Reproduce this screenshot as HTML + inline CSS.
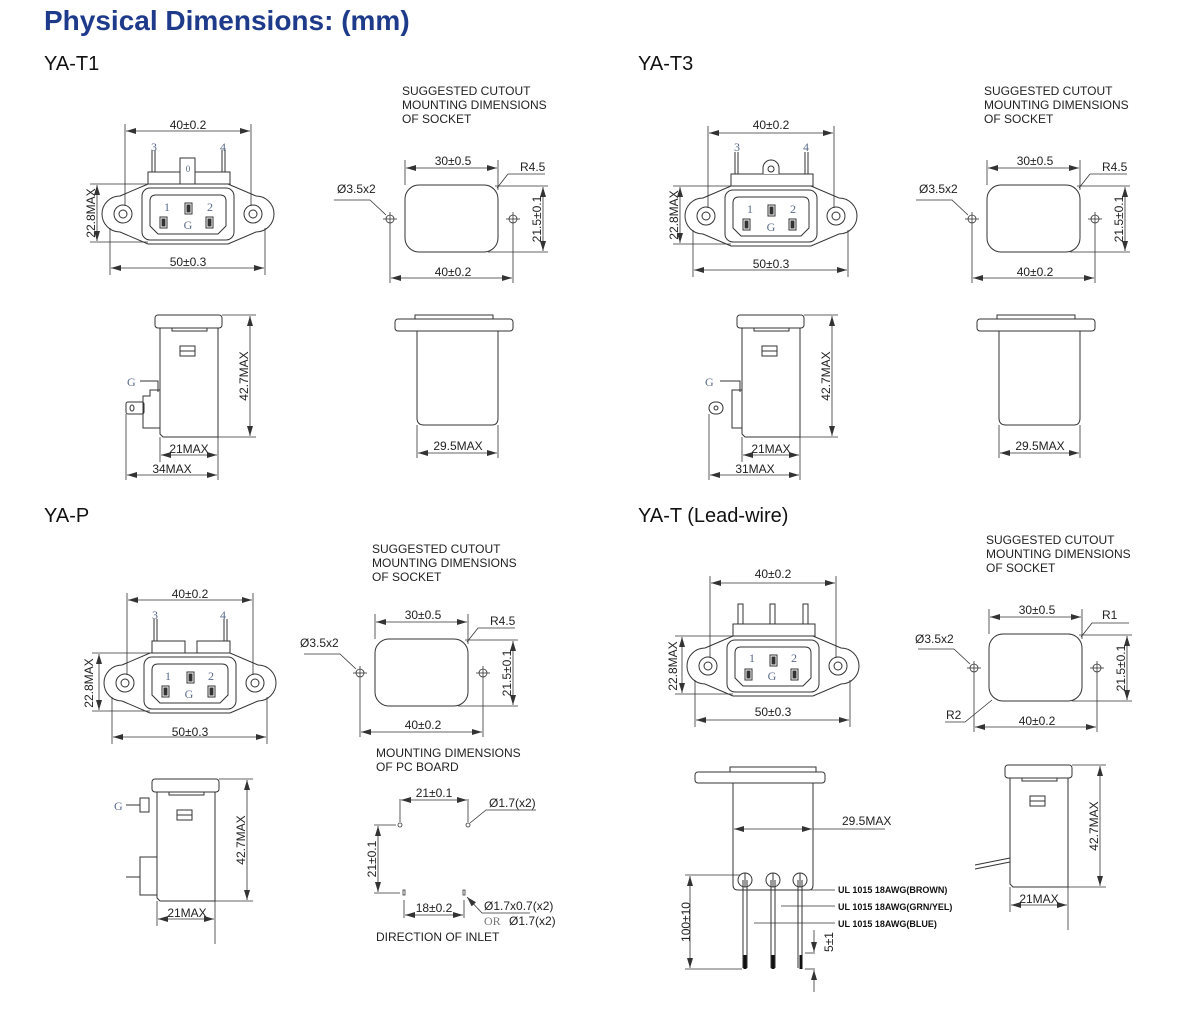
<!DOCTYPE html>
<html><head><meta charset="utf-8"><style>
html,body{margin:0;padding:0;background:#fff;}
svg{display:block}
text{font-family:"Liberation Sans",sans-serif;}
.t{font-size:12px;fill:#222}
.s{font-size:12px;fill:#222}
.h{font-size:20px;fill:#111}
.n{font-family:"Liberation Serif",serif;font-size:12px;fill:#5a6a8a}
.w{font-size:9px;font-weight:bold;fill:#111}
</style></head><body>
<svg width="1200" height="1019" viewBox="0 0 1200 1019" xmlns="http://www.w3.org/2000/svg">
<defs>
<marker id="a" markerWidth="10" markerHeight="6" refX="10" refY="3" orient="auto-start-reverse" markerUnits="userSpaceOnUse"><path d="M0,0 L10,3 L0,6 Z" fill="#333"/></marker>
<g id="face" fill="none" stroke="#333" stroke-width="1">
 <path d="M120,196 L148,184 L228,184 L256,196 A18,18 0 0 1 256,232 L228,244 L148,244 L120,232 A18,18 0 0 1 120,196 Z" fill="#fff"/>
 <rect x="142" y="188" width="92" height="52" rx="8"/>
 <path d="M156,195 L220,195 Q226,195 226,201 L226,226 L218,234 L158,234 L150,226 L150,201 Q150,195 156,195 Z"/>
 <circle cx="123" cy="214" r="9"/><circle cx="123" cy="214" r="4"/>
 <circle cx="253" cy="214" r="9"/><circle cx="253" cy="214" r="4"/>
 <rect x="160" y="217" width="7" height="11"/><rect x="162" y="219" width="3" height="7" fill="#333"/>
 <rect x="185" y="203" width="7" height="11"/><rect x="187" y="205" width="3" height="7" fill="#333"/>
 <rect x="206" y="217" width="7" height="11"/><rect x="208" y="219" width="3" height="7" fill="#333"/>
</g>
<g id="dimf" fill="none" stroke="#333" stroke-width="0.8">
 <line x1="125" y1="124" x2="125" y2="206"/><line x1="251" y1="124" x2="251" y2="206"/>
 <line x1="126" y1="131" x2="250" y2="131" marker-start="url(#a)" marker-end="url(#a)"/>
 <line x1="110" y1="228" x2="110" y2="275"/><line x1="265" y1="228" x2="265" y2="275"/>
 <line x1="111" y1="268" x2="264" y2="268" marker-start="url(#a)" marker-end="url(#a)"/>
 <line x1="90" y1="184" x2="148" y2="184"/><line x1="90" y1="242" x2="148" y2="242"/>
 <line x1="97" y1="185" x2="97" y2="241" marker-start="url(#a)" marker-end="url(#a)"/>
</g>
<g id="cut" fill="none" stroke="#333" stroke-width="0.8">
 <rect x="405" y="185" width="93" height="67" rx="14" stroke-width="1"/>
 <circle cx="390" cy="219" r="4"/><line x1="383" y1="219" x2="397" y2="219"/><line x1="390" y1="212" x2="390" y2="283"/>
 <circle cx="513" cy="219" r="4"/><line x1="506" y1="219" x2="520" y2="219"/><line x1="513" y1="212" x2="513" y2="283"/>
 <line x1="405" y1="160" x2="405" y2="185"/><line x1="498" y1="160" x2="498" y2="190"/>
 <line x1="406" y1="168" x2="497" y2="168" marker-start="url(#a)" marker-end="url(#a)"/>
 <line x1="391" y1="278" x2="512" y2="278" marker-start="url(#a)" marker-end="url(#a)"/>
 <line x1="495" y1="186" x2="548" y2="186"/><line x1="488" y1="252" x2="548" y2="252"/>
 <line x1="543" y1="187" x2="543" y2="251" marker-start="url(#a)" marker-end="url(#a)"/>
 <path d="M334,200 L370,200 L386,215"/>
 <path d="M545,174 L508,174 L497,188"/>
</g>
<g id="side" fill="none" stroke="#333" stroke-width="1">
 <rect x="155" y="315" width="67" height="13" rx="3" fill="#fff"/>
 <rect x="172" y="328" width="35" height="3"/>
 <path d="M160,328 L160,434 L163,437 L218,437 L218,328"/>
 <rect x="180" y="346" width="15" height="10"/><line x1="180" y1="351" x2="195" y2="351"/>
 <line x1="222" y1="315" x2="256" y2="315" stroke-width="0.8"/><line x1="218" y1="437" x2="256" y2="437" stroke-width="0.8"/>
 <line x1="250" y1="316" x2="250" y2="436" stroke-width="0.8" marker-start="url(#a)" marker-end="url(#a)"/>
 <line x1="160" y1="437" x2="160" y2="462" stroke-width="0.8"/><line x1="218" y1="437" x2="218" y2="480" stroke-width="0.8"/>
 <line x1="161" y1="455" x2="217" y2="455" stroke-width="0.8" marker-start="url(#a)" marker-end="url(#a)"/>
</g>
<g id="bot" fill="none" stroke="#333" stroke-width="1">
 <rect x="395" y="319" width="118" height="12" rx="3"/>
 <rect x="415" y="315" width="78" height="4"/>
 <path d="M417,331 L417,418 Q417,425 424,425 L492,425 Q498,425 498,418 L498,331"/>
 <line x1="417" y1="425" x2="417" y2="458" stroke-width="0.8"/><line x1="498" y1="425" x2="498" y2="458" stroke-width="0.8"/>
 <line x1="418" y1="453" x2="497" y2="453" stroke-width="0.8" marker-start="url(#a)" marker-end="url(#a)"/>
</g>
</defs>

<text x="44" y="30" style="font-size:28px;font-weight:bold;fill:#1e3a8a">Physical Dimensions: (mm)</text>

<text x="44" y="70" class="h">YA-T1</text>
<g fill="none" stroke="#333" stroke-width="1">
 <line x1="152" y1="150" x2="152" y2="172"/><line x1="155" y1="150" x2="155" y2="172"/>
 <line x1="222" y1="150" x2="222" y2="172"/><line x1="225" y1="150" x2="225" y2="172"/>
 <rect x="148" y="172" width="82" height="12" fill="#fff"/>
 <rect x="180" y="158" width="15" height="26" fill="#fff"/>
</g>
<use href="#face"/><use href="#dimf"/>
<text x="188" y="172" class="n" style="font-size:9px" text-anchor="middle">0</text>
<text x="188" y="129" class="t" text-anchor="middle">40±0.2</text>
<text x="188" y="266" class="t" text-anchor="middle">50±0.3</text>
<text x="95" y="213" class="t" text-anchor="middle" transform="rotate(-90 95 213)">22.8MAX</text>
<text x="154" y="151" class="n" text-anchor="middle">3</text><text x="223" y="151" class="n" text-anchor="middle">4</text>
<text x="167" y="211" class="n" text-anchor="middle">1</text><text x="188" y="229" class="n" text-anchor="middle">G</text><text x="210" y="211" class="n" text-anchor="middle">2</text>

<use href="#cut"/>
<text x="402" y="95" class="s">SUGGESTED CUTOUT</text><text x="402" y="109" class="s">MOUNTING DIMENSIONS</text><text x="402" y="123" class="s">OF SOCKET</text>
<text x="453" y="165" class="t" text-anchor="middle">30±0.5</text>
<text x="520" y="171" class="t">R4.5</text>
<text x="337" y="193" class="t">Ø3.5x2</text>
<text x="453" y="276" class="t" text-anchor="middle">40±0.2</text>
<text x="541" y="219" class="t" text-anchor="middle" transform="rotate(-90 541 219)">21.5±0.1</text>

<use href="#side"/>
<g fill="none" stroke="#333" stroke-width="1">
 <path d="M140,381 L158,381 L158,392"/><path d="M160,390 L150,390 L150,396 L143,396 L143,428 L160,428"/>
 <rect x="126" y="402" width="18" height="12" rx="2"/><ellipse cx="132" cy="408" rx="2" ry="3"/>
 <line x1="126" y1="414" x2="126" y2="480" stroke-width="0.8"/>
 <line x1="127" y1="475" x2="217" y2="475" stroke-width="0.8" marker-start="url(#a)" marker-end="url(#a)"/>
</g>
<text x="127" y="386" class="n">G</text>
<text x="189" y="453" class="t" text-anchor="middle">21MAX</text>
<text x="172" y="473" class="t" text-anchor="middle">34MAX</text>
<text x="248" y="376" class="t" text-anchor="middle" transform="rotate(-90 248 376)">42.7MAX</text>
<use href="#bot"/>
<text x="458" y="450" class="t" text-anchor="middle">29.5MAX</text>

<text x="638" y="70" class="h">YA-T3</text>
<g transform="translate(583,2)">
 <g fill="none" stroke="#333" stroke-width="1">
  <line x1="152" y1="150" x2="152" y2="172"/><line x1="155" y1="150" x2="155" y2="172"/>
  <line x1="222" y1="150" x2="222" y2="172"/><line x1="225" y1="150" x2="225" y2="172"/>
  <rect x="148" y="172" width="82" height="12" fill="#fff"/>
  <path d="M180,172 L180,166 A8,8 0 0 1 196,166 L196,172" fill="#fff"/><circle cx="188" cy="167" r="3"/>
 </g>
 <use href="#face"/><use href="#dimf"/>
</g>
<text x="771" y="129" class="t" text-anchor="middle">40±0.2</text>
<text x="771" y="268" class="t" text-anchor="middle">50±0.3</text>
<text x="678" y="215" class="t" text-anchor="middle" transform="rotate(-90 678 215)">22.8MAX</text>
<text x="737" y="151" class="n" text-anchor="middle">3</text><text x="806" y="151" class="n" text-anchor="middle">4</text>
<text x="750" y="213" class="n" text-anchor="middle">1</text><text x="771" y="231" class="n" text-anchor="middle">G</text><text x="793" y="213" class="n" text-anchor="middle">2</text>
<use href="#cut" transform="translate(582,0)"/>
<text x="984" y="95" class="s">SUGGESTED CUTOUT</text><text x="984" y="109" class="s">MOUNTING DIMENSIONS</text><text x="984" y="123" class="s">OF SOCKET</text>
<text x="1035" y="165" class="t" text-anchor="middle">30±0.5</text>
<text x="1102" y="171" class="t">R4.5</text>
<text x="919" y="193" class="t">Ø3.5x2</text>
<text x="1035" y="276" class="t" text-anchor="middle">40±0.2</text>
<text x="1123" y="219" class="t" text-anchor="middle" transform="rotate(-90 1123 219)">21.5±0.1</text>
<use href="#side" transform="translate(582,0)"/>
<g fill="none" stroke="#333" stroke-width="1">
 <path d="M720,381 L740,381 L740,392"/><path d="M742,390 L732,390 L732,428 L742,428"/>
 <rect x="709" y="402" width="14" height="12" rx="6"/><circle cx="716" cy="408" r="2"/>
 <line x1="709" y1="414" x2="709" y2="480" stroke-width="0.8"/>
 <line x1="710" y1="475" x2="799" y2="475" stroke-width="0.8" marker-start="url(#a)" marker-end="url(#a)"/>
</g>
<text x="705" y="386" class="n">G</text>
<text x="771" y="453" class="t" text-anchor="middle">21MAX</text>
<text x="755" y="473" class="t" text-anchor="middle">31MAX</text>
<text x="830" y="376" class="t" text-anchor="middle" transform="rotate(-90 830 376)">42.7MAX</text>
<use href="#bot" transform="translate(582,0)"/>
<text x="1040" y="450" class="t" text-anchor="middle">29.5MAX</text>

<text x="44" y="522" class="h">YA-P</text>
<g transform="translate(2,469)">
 <g fill="none" stroke="#333" stroke-width="1">
  <rect x="150" y="172" width="33" height="12" fill="#fff"/><rect x="195" y="172" width="33" height="12" fill="#fff"/>
  <line x1="152" y1="150" x2="152" y2="172"/><line x1="155" y1="150" x2="155" y2="172"/>
  <line x1="222" y1="150" x2="222" y2="172"/><line x1="225" y1="150" x2="225" y2="172"/>
 </g>
 <use href="#face"/><use href="#dimf"/>
</g>
<text x="190" y="598" class="t" text-anchor="middle">40±0.2</text>
<text x="190" y="736" class="t" text-anchor="middle">50±0.3</text>
<text x="93" y="683" class="t" text-anchor="middle" transform="rotate(-90 93 683)">22.8MAX</text>
<text x="155" y="619" class="n" text-anchor="middle">3</text><text x="223" y="619" class="n" text-anchor="middle">4</text>
<text x="168" y="680" class="n" text-anchor="middle">1</text><text x="189" y="698" class="n" text-anchor="middle">G</text><text x="211" y="680" class="n" text-anchor="middle">2</text>
<use href="#cut" transform="translate(-30,454)"/>
<text x="372" y="553" class="s">SUGGESTED CUTOUT</text><text x="372" y="567" class="s">MOUNTING DIMENSIONS</text><text x="372" y="581" class="s">OF SOCKET</text>
<text x="423" y="619" class="t" text-anchor="middle">30±0.5</text>
<text x="490" y="625" class="t">R4.5</text>
<text x="300" y="647" class="t">Ø3.5x2</text>
<text x="423" y="729" class="t" text-anchor="middle">40±0.2</text>
<text x="511" y="673" class="t" text-anchor="middle" transform="rotate(-90 511 673)">21.5±0.1</text>
<use href="#side" transform="translate(-3,464)"/>
<g fill="none" stroke="#333" stroke-width="1">
 <path d="M126,805 L140,805"/><rect x="140" y="798" width="9" height="14"/>
 <rect x="140" y="857" width="17" height="38"/><line x1="126" y1="877" x2="140" y2="877"/>
</g>
<text x="114" y="810" class="n">G</text>
<text x="187" y="917" class="t" text-anchor="middle">21MAX</text>
<text x="245" y="840" class="t" text-anchor="middle" transform="rotate(-90 245 840)">42.7MAX</text>
<text x="376" y="757" class="s">MOUNTING  DIMENSIONS</text><text x="376" y="771" class="s">OF  PC  BOARD</text>
<g fill="none" stroke="#333" stroke-width="0.8">
 <line x1="400" y1="799" x2="400" y2="822"/><line x1="468" y1="799" x2="468" y2="822"/>
 <line x1="401" y1="800" x2="467" y2="800" marker-start="url(#a)" marker-end="url(#a)"/>
 <circle cx="400" cy="825" r="2"/><circle cx="468" cy="825" r="2"/>
 <path d="M470,823 L486,810 L536,810"/>
 <line x1="374" y1="825" x2="396" y2="825"/><line x1="374" y1="893" x2="400" y2="893"/>
 <line x1="378" y1="826" x2="378" y2="892" marker-start="url(#a)" marker-end="url(#a)"/>
 <rect x="403" y="890" width="2" height="5"/><rect x="463" y="890" width="2" height="5"/>
 <line x1="404" y1="900" x2="404" y2="918"/><line x1="464" y1="900" x2="464" y2="918"/>
 <line x1="405" y1="915" x2="463" y2="915" marker-start="url(#a)" marker-end="url(#a)"/>
 <path d="M467,897 L482,913 L530,913" marker-start="url(#a)"/>
</g>
<text x="434" y="797" class="t" text-anchor="middle">21±0.1</text>
<text x="489" y="807" class="t">Ø1.7(x2)</text>
<text x="376" y="859" class="t" text-anchor="middle" transform="rotate(-90 376 859)">21±0.1</text>
<text x="434" y="912" class="t" text-anchor="middle">18±0.2</text>
<text x="484" y="910" class="t">Ø1.7x0.7(x2)</text>
<text x="484" y="925" class="n" style="font-size:12px;fill:#777">OR</text><text x="509" y="925" class="t">Ø1.7(x2)</text>
<text x="376" y="941" class="s">DIRECTION  OF  INLET</text>

<text x="638" y="522" class="h">YA-T (Lead-wire)</text>
<g transform="translate(585,452)">
 <g fill="none" stroke="#333" stroke-width="1">
  <rect x="153" y="152" width="5" height="32" fill="#fff"/><rect x="185" y="152" width="5" height="32" fill="#fff"/><rect x="218" y="152" width="5" height="32" fill="#fff"/>
  <rect x="148" y="172" width="82" height="12" fill="#fff"/>
 </g>
 <use href="#face"/><use href="#dimf"/>
</g>
<text x="773" y="578" class="t" text-anchor="middle">40±0.2</text>
<text x="773" y="716" class="t" text-anchor="middle">50±0.3</text>
<text x="677" y="666" class="t" text-anchor="middle" transform="rotate(-90 677 666)">22.8MAX</text>
<text x="752" y="662" class="n" text-anchor="middle">1</text><text x="772" y="680" class="n" text-anchor="middle">G</text><text x="794" y="662" class="n" text-anchor="middle">2</text>
<use href="#cut" transform="translate(584,449)"/>
<text x="986" y="544" class="s">SUGGESTED CUTOUT</text><text x="986" y="558" class="s">MOUNTING DIMENSIONS</text><text x="986" y="572" class="s">OF SOCKET</text>
<text x="1037" y="614" class="t" text-anchor="middle">30±0.5</text>
<text x="1102" y="619" class="t">R1</text>
<text x="915" y="643" class="t">Ø3.5x2</text>
<text x="946" y="719" class="t">R2</text>
<path d="M945,722 L965,722 L992,700" fill="none" stroke="#333" stroke-width="0.8"/>
<text x="1037" y="725" class="t" text-anchor="middle">40±0.2</text>
<text x="1125" y="668" class="t" text-anchor="middle" transform="rotate(-90 1125 668)">21.5±0.1</text>
<g fill="none" stroke="#333" stroke-width="1">
 <rect x="695" y="772" width="130" height="11" rx="3"/>
 <rect x="730" y="767" width="86" height="5"/>
 <path d="M733,783 L733,885 Q733,890 738,890 L809,890 Q813,890 813,885 L813,783"/>
 <line x1="734" y1="829" x2="812" y2="829" stroke-width="0.8" marker-start="url(#a)" marker-end="url(#a)"/>
 <line x1="813" y1="829" x2="885" y2="829" stroke-width="0.8"/>
 <circle cx="745" cy="880" r="7"/><circle cx="773" cy="880" r="7"/><circle cx="800" cy="880" r="7"/>
 <path d="M743,880 L743,968 M747,880 L747,968 M771,880 L771,968 M775,880 L775,968 M798,880 L798,968 M802,880 L802,968"/>
 <path d="M745,873 L745,887 M773,873 L773,887 M800,873 L800,887"/>
</g>
<g stroke="#111" stroke-width="3"><line x1="745" y1="955" x2="745" y2="969"/><line x1="773" y1="955" x2="773" y2="969"/><line x1="801" y1="955" x2="801" y2="969"/></g>
<g fill="none" stroke="#333" stroke-width="0.8">
 <line x1="685" y1="875" x2="740" y2="875"/><line x1="685" y1="969" x2="742" y2="969"/>
 <line x1="690" y1="876" x2="690" y2="968" marker-start="url(#a)" marker-end="url(#a)"/>
 <line x1="811" y1="890" x2="835" y2="890"/><line x1="781" y1="906" x2="835" y2="906"/><line x1="754" y1="923" x2="835" y2="923"/>
 <line x1="805" y1="953" x2="815" y2="953"/><line x1="805" y1="969" x2="815" y2="969"/>
 <line x1="814" y1="930" x2="814" y2="952" marker-end="url(#a)"/><line x1="814" y1="992" x2="814" y2="970" marker-end="url(#a)"/>
</g>
<text x="842" y="825" class="t">29.5MAX</text>
<text x="690" y="922" class="t" text-anchor="middle" transform="rotate(-90 690 922)">100±10</text>
<text x="833" y="942" class="t" text-anchor="middle" transform="rotate(-90 833 942)">5±1</text>
<text x="838" y="893" class="w">UL 1015 18AWG(BROWN)</text>
<text x="838" y="910" class="w">UL 1015 18AWG(GRN/YEL)</text>
<text x="838" y="927" class="w">UL 1015 18AWG(BLUE)</text>
<use href="#side" transform="translate(850,450)"/>
<g fill="none" stroke="#333" stroke-width="1"><path d="M1010,858 L975,865 M1010,862 L975,869"/></g>
<text x="1039" y="903" class="t" text-anchor="middle">21MAX</text>
<text x="1098" y="826" class="t" text-anchor="middle" transform="rotate(-90 1098 826)">42.7MAX</text>
</svg>
</body></html>
